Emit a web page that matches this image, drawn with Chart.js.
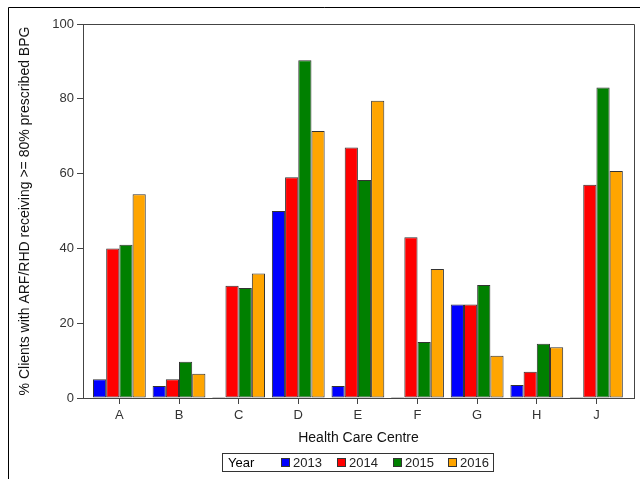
<!DOCTYPE html>
<html><head><meta charset="utf-8">
<script src="https://cdn.jsdelivr.net/npm/chart.js@4/dist/chart.umd.min.js"></script>
<style>html,body{margin:0;padding:0;background:#fff;}#wrap{width:640px;height:479px;position:relative;}</style>
</head><body><div id="wrap"><canvas id="c" width="640" height="479"></canvas></div>
<script>
const categories = ['A','B','C','D','E','F','G','H','J'];
const years = ['2013','2014','2015','2016'];
const v2013 = [5, 3.2, 0, 50, 3.2, 0, 25, 3.5, 0];
const v2014 = [40, 5, 30, 59, 67, 43, 25, 7, 57];
const v2015 = [41, 9.7, 29.4, 90.3, 58.3, 15, 30.2, 14.5, 83];
const v2016 = [54.5, 6.5, 33.3, 71.4, 79.5, 34.5, 11.3, 13.6, 60.7];
const yTicks = [0, 20, 40, 60, 80, 100];
const colors = ['#0000ff', '#ff0000', '#008000', '#ffa500'];
const series = [v2013, v2014, v2015, v2016];
const FONT = '"Liberation Sans", Arial, sans-serif';

const frame = {
  id: 'frame',
  beforeDraw(chart) {
    const ctx = chart.ctx;
    ctx.save();
    ctx.strokeStyle = '#000';
    ctx.lineWidth = 1;
    ctx.beginPath();
    ctx.moveTo(8.5, 479); ctx.lineTo(8.5, 7.5); ctx.lineTo(640, 7.5);
    ctx.stroke();
    ctx.restore();
  },
  afterDraw(chart) {
    const ctx = chart.ctx, a = chart.chartArea;
    ctx.save();
    ctx.strokeStyle = '#444';
    ctx.lineWidth = 1;
    ctx.beginPath();
    ctx.moveTo(Math.round(a.left) + 0.5, Math.round(a.top) + 0.5);
    ctx.lineTo(Math.round(a.right) + 0.5, Math.round(a.top) + 0.5);
    ctx.lineTo(Math.round(a.right) + 0.5, Math.round(a.bottom) + 0.5);
    ctx.stroke();
    // legend
    const lx = 222.5, ly = 453.5, lw = 271, lh = 18;
    ctx.fillStyle = '#fff';
    ctx.fillRect(lx, ly, lw, lh);
    ctx.strokeStyle = '#333';
    ctx.strokeRect(lx, ly, lw, lh);
    ctx.font = '13px ' + FONT;
    ctx.fillStyle = '#000';
    ctx.textBaseline = 'middle';
    ctx.textAlign = 'left';
    const cy = ly + lh / 2 + 0.5;
    ctx.fillText('Year', 228, cy);
    const sx = [281, 337, 393, 448];
    years.forEach((y, i) => {
      ctx.fillStyle = colors[i];
      ctx.fillRect(sx[i] + 0.5, cy - 4.5, 8, 8);
      ctx.strokeStyle = '#333';
      ctx.strokeRect(sx[i] + 0.5, cy - 4.5, 8, 8);
      ctx.fillStyle = '#222';
      ctx.fillText(y, sx[i] + 12, cy);
    });
    ctx.restore();
  }
};

new Chart(document.getElementById('c'), {
  type: 'bar',
  data: {
    labels: categories,
    datasets: years.map((y, i) => ({
      label: y,
      data: series[i],
      backgroundColor: colors[i],
      borderColor: '#333',
      borderWidth: 1,
      borderSkipped: false,
      minBarLength: 1,
      barPercentage: 1.0,
      categoryPercentage: 0.885
    }))
  },
  options: {
    responsive: false,
    animation: false,
    devicePixelRatio: 1,
    layout: { padding: { top: 24, right: 6, bottom: 32, left: 0 } },
    plugins: { legend: { display: false }, tooltip: { enabled: false } },
    scales: {
      x: {
        grid: { display: true, drawOnChartArea: false, drawTicks: true, tickLength: 6, offset: false, color: '#444' },
        border: { display: true, color: '#444', width: 1 },
        ticks: { color: '#333', font: { size: 13, family: FONT }, padding: 4 },
        title: { display: true, text: 'Health Care Centre', color: '#111', font: { size: 14, family: FONT }, padding: { top: 6, bottom: 0 } },
        afterFit(s) { s.height = 49; },
        afterBuildTicks(s) {
          // SAS-style uneven outer padding: first category 0.61 spacing from left edge, last 0.63 from right
          s._startValue = -0.61;
          s._valueRange = categories.length - 1 + 0.61 + 0.63;
        }
      },
      y: {
        min: 0, max: 100,
        afterBuildTicks(s) { s.ticks = yTicks.map(v => ({ value: v })); },
        grid: { display: true, drawOnChartArea: false, drawTicks: true, tickLength: 6, color: '#444' },
        border: { display: true, color: '#444', width: 1 },
        ticks: { color: '#333', font: { size: 13, family: FONT }, padding: 3 },
        title: { display: true, text: '% Clients with ARF/RHD receiving >= 80% prescribed BPG', color: '#111', font: { size: 14, family: FONT }, padding: { top: 17, bottom: 4 } },
        afterFit(s) { s.width = 83; }
      }
    }
  },
  plugins: [frame]
});
</script></body></html>
